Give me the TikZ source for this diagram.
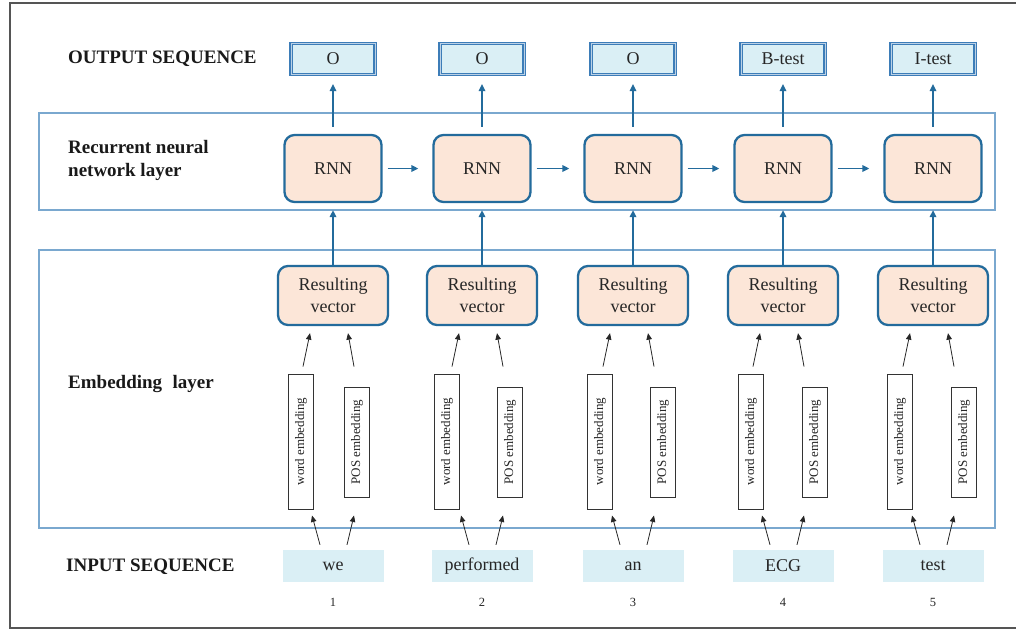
\documentclass[tikz,border=0pt]{standalone}
\usepackage{fontspec}
\setmainfont{Liberation Serif}
\usetikzlibrary{arrows.meta}
\definecolor{layerblue}{HTML}{7AA8CF}
\definecolor{darkblue}{HTML}{236B9C}
\definecolor{peach}{HTML}{FCE6D8}
\definecolor{lightcyan}{HTML}{DAEFF5}
\definecolor{outblue}{HTML}{3D7DB8}
\definecolor{framegray}{HTML}{555555}
\begin{document}
\begin{tikzpicture}[x=1pt,y=-1pt,
  every node/.style={font=\fontsize{18}{22}\selectfont, text=black!85, inner sep=0pt},
  layerlabel/.style={font=\bfseries\fontsize{19}{23}\selectfont, anchor=west, align=left, text=black!90},
  layerbox/.style={draw=layerblue, line width=1.1pt},
  rnnbox/.style={draw=darkblue, line width=2.3pt, fill=peach, rounded corners=10pt, minimum width=97pt, minimum height=67pt},
  rvbox/.style={draw=darkblue, line width=2.3pt, fill=peach, rounded corners=10pt, minimum width=110pt, minimum height=59pt, align=center},
  outbox/.style={draw=outblue, line width=1.1pt, double=outblue!35!white, double distance=1pt, fill=lightcyan, minimum width=84pt, minimum height=31pt},
  inbox/.style={fill=lightcyan, minimum width=101pt, minimum height=32pt},
  wordbox/.style={draw=black!80, line width=0.9pt, fill=white, rotate=90, minimum width=135pt, minimum height=25pt, font=\fontsize{13}{15}\selectfont},
  posbox/.style={draw=black!80, line width=0.9pt, fill=white, rotate=90, minimum width=110pt, minimum height=25pt, font=\fontsize{13}{15}\selectfont},
  numlabel/.style={font=\fontsize{12.5}{14}\selectfont},
  barrow/.style={draw=darkblue, line width=1.6pt, -{Triangle[length=7pt,width=6.5pt]}},
  karrow/.style={draw=black!85, line width=0.8pt, -{Triangle[length=6.5pt,width=5.5pt]}}
]
\useasboundingbox (0,0) rectangle (1016,630);
% outer frame
\draw[framegray, line width=1.8pt] (1016,3) -- (10,3) -- (10,628) -- (1016,628);
% layer boxes
\node[layerbox, minimum width=956pt, minimum height=97pt] (rnnlayer) at (517,161.5) {};
\node[layerbox, minimum width=956pt, minimum height=278pt] (emblayer) at (517,389) {};
% layer labels
\node[layerlabel] (lout) at (68,59) {OUTPUT SEQUENCE};
\node[layerlabel] (lrnn) at (68,160) {Recurrent neural\\network layer};
\node[layerlabel] (lemb) at (68,384) {Embedding\hspace{0.3em} layer};
\node[layerlabel] (lin) at (66,567) {INPUT SEQUENCE};
% columns
\foreach \i/\c/\w/\p/\word/\tag in {1/333/301/357/we/O, 2/482/447/510/performed/O, 3/633/600/663/an/O, 4/783/751/815/ECG/B-test, 5/933/900/964/test/I-test}{
  \node[outbox] (out\i) at (\c,59) {\tag};
  \node[rnnbox] (rnn\i) at (\c,168.5) {RNN};
  \node[rvbox] (rv\i) at (\c,295.5) {Resulting\\vector};
  \node[wordbox] (w\i) at (\w,441.5) {word embedding};
  \node[posbox] (p\i) at (\p,442) {POS embedding};
  \node[inbox] (in\i) at (\c,566) {\word};
  \node[numlabel] (n\i) at (\c,602) {\i};
  \pgfmathsetmacro{\wa}{\c-30-\w}
  \pgfmathsetmacro{\pa}{\c+21-\p}
  \pgfmathsetmacro{\wb}{\c-21-\w}
  \pgfmathsetmacro{\pb}{\c+21-\p}
  \draw[barrow, shorten <=7pt, shorten >=9pt] (rnn\i.north) -- (out\i.south);
  \draw[barrow, shorten >=7pt] (rv\i.north) -- (rnn\i.south);
  \draw[karrow] ([xshift=\wa pt, yshift=7pt]w\i.east) -- ([xshift=-23pt, yshift=-7pt]rv\i.south);
  \draw[karrow] ([xshift=\pa pt, yshift=20pt]p\i.east) -- ([xshift=15pt, yshift=-7pt]rv\i.south);
  \draw[karrow] ([xshift=-13pt, yshift=5pt]in\i.north) -- ([xshift=\wb pt, yshift=-6pt]w\i.west);
  \draw[karrow] ([xshift=14pt, yshift=5pt]in\i.north) -- ([xshift=\pb pt, yshift=-18pt]p\i.west);
}
\foreach \i/\j in {1/2, 2/3, 3/4, 4/5}{
  \draw[barrow, shorten <=5pt, shorten >=14pt] (rnn\i.east) -- (rnn\j.west);
}
\end{tikzpicture}
\end{document}
